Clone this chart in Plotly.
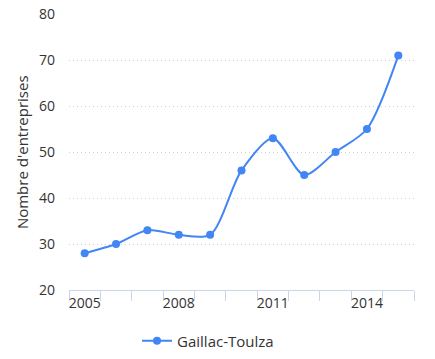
import plotly.graph_objects as go

years = [2005, 2006, 2007, 2008, 2009, 2010, 2011, 2012, 2013, 2014, 2015]
values = [28, 30, 33, 32, 32, 46, 53, 45, 50, 55, 71]
series_name = "Gaillac-Toulza"
tick_years = [2005, 2008, 2011, 2014]
y_ticks = [20, 30, 40, 50, 60, 70, 80]
y_title = "Nombre d'entreprises"

color = "#4285F4"
font_family = "Open Sans, Lato, sans-serif"

fig = go.Figure()
fig.add_trace(go.Scatter(
    x=years, y=values, name=series_name,
    mode="lines+markers",
    line=dict(color=color, width=2, shape="spline", smoothing=0.8),
    marker=dict(color=color, size=8),
))

fig.add_annotation(
    text=y_title, xref="paper", yref="paper", x=-0.136, y=0.5,
    xanchor="center", yanchor="middle", textangle=-90, showarrow=False,
    font=dict(size=15, color="#333333", family=font_family),
)

fig.update_layout(
    width=435, height=359, autosize=False,
    margin=dict(l=69, r=21, t=14, b=69, autoexpand=False),
    paper_bgcolor="white", plot_bgcolor="white",
    font=dict(family=font_family, color="#333333", size=14),
    showlegend=True,
    legend=dict(orientation="h", xref="container", x=0.315, xanchor="left",
                y=-0.185, yanchor="middle",
                font=dict(size=15, color="#333333")),
    xaxis=dict(
        range=[2004.5, 2015.5], tickvals=tick_years, ticktext=[str(t) for t in tick_years],
        showgrid=False, zeroline=False, showline=True, linecolor="#ccd6eb", linewidth=1,
        ticks="", tickfont=dict(size=14, color="#333333"), automargin=False,
        minor=dict(ticks="outside", tick0=2004.5, dtick=1, ticklen=10, tickcolor="#ccd6eb", showgrid=False),
    ),
    yaxis=dict(
        range=[20, 80], tickvals=y_ticks, showgrid=True, gridcolor="#d0d0d0", griddash="1px,3px",
        zeroline=False, showline=False, ticks="", ticklabelstandoff=13, automargin=False,
        ticklabeloverflow="allow", tickfont=dict(size=14, color="#333333"),
    ),
)

fig.write_html("out.html", config={"displayModeBar": False},
               post_script="document.body.style.margin='0';")
